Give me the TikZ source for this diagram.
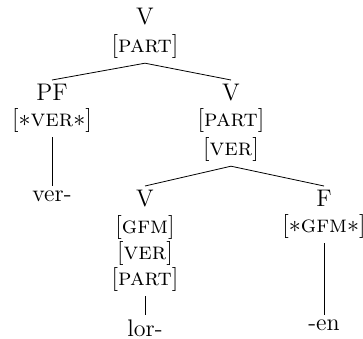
\documentclass[tikz,border=0pt]{standalone}
\usetikzlibrary{positioning}
\begin{document}
\begin{tikzpicture}[
    x=0.5pt, y=-0.5pt,
    cat/.style={align=center, anchor=north, inner sep=2pt, font=\fontsize{12}{13}\selectfont},
    branch/.style={thin}
]
    \useasboundingbox (0,0) rectangle (363,338);
    % Top level
    \node[cat] (root) at (145,4) {V\\[1pt]{}[\textsc{part}]};
    % Second level
    \node[cat] (pf) at (52,80) {PF\\{}[$\ast$\textsc{ver}$\ast$]};
    \node[cat] (vr) at (231,80) {V\\{}[\textsc{part}]\\[1.5pt]{}[\textsc{ver}]};
    \draw[branch] (root.south) -- (pf.north);
    \draw[branch] (root.south) -- (vr.north);
    % Third level
    \node[cat] (ver) at (52,186) {ver-};
    \node[cat] (vl) at (145,186) {V\\[0.5pt]{}[\textsc{gfm}]\\{}[\textsc{ver}]\\{}[\textsc{part}]};
    \node[cat] (f) at (324,186) {F\\{}[$\ast$\textsc{gfm}$\ast$]};
    \draw[branch] (pf.south) -- (ver.north);
    \draw[branch] (vr.south) -- (vl.north);
    \draw[branch] (vr.south) -- (f.north);
    % Leaves
    \node[cat] (lor) at (145,315) {lor-};
    \node[cat] (en) at (324,315) {-en};
    \draw[branch] (vl.south) -- (lor.north);
    \draw[branch] (f.south) -- (en.north);
\end{tikzpicture}
\end{document}
